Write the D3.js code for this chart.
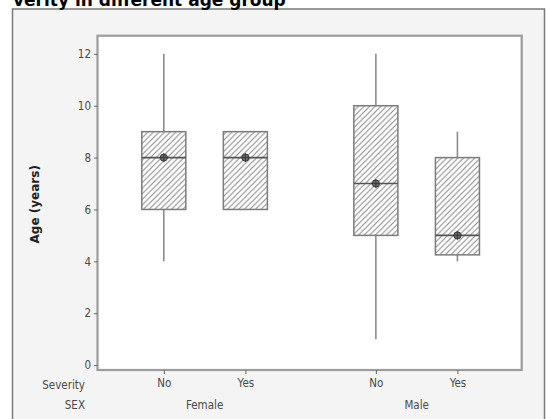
<!DOCTYPE html>
<html>
<head>
<meta charset="utf-8">
<script src="https://cdn.jsdelivr.net/npm/d3@7"></script>
<style>
  html, body { margin: 0; padding: 0; background: #ffffff; }
  svg { display: block; }
</style>
</head>
<body>
<svg id="chart" width="546" height="419"></svg>
<script>
// ---- data ----
const groups = ["Female", "Male"];
const severityLevels = ["No", "Yes"];
const sex = ["Female", "Female", "Male", "Male"];
const severity = ["No", "Yes", "No", "Yes"];
const whiskerLow = [4, 6, 1, 4];
const q1 = [6, 6, 5, 4.25];
const median = [8, 8, 7, 5];
const q3 = [9, 9, 10, 8];
const whiskerHigh = [12, 9, 12, 9];
const means = [8, 8, 7, 5];
const yTicks = [0, 2, 4, 6, 8, 10, 12];
const titleText = "verity in different age group";
const yTitle = "Age (years)";
const groupGap = 2.6;

// ---- layout ----
const svg = d3.select("#chart");
const W = 546, H = 419;
const plot = { left: 97.5, right: 521.7, top: 35.7, bottom: 370 };
const labelFont = "'DejaVu Sans Condensed', 'DejaVu Sans', sans-serif";
const textColor = "#4a4a4a";

const pos = sex.map((s, i) => groups.indexOf(s) * groupGap + severityLevels.indexOf(severity[i]));
const x = d3.scaleLinear().domain([-0.813, 4.388]).range([plot.left, plot.right]);
const y = d3.scaleLinear().domain([-0.19, 12.7]).range([plot.bottom, plot.top]);
const boxW = x(0.54) - x(0);

// hatch pattern
const defs = svg.append("defs");
const pat = defs.append("pattern").attr("id", "hatch")
  .attr("patternUnits", "userSpaceOnUse").attr("width", 5.6).attr("height", 5.6);
pat.append("rect").attr("width", 5.6).attr("height", 5.6).attr("fill", "#ffffff");
pat.append("path").attr("d", "M-1,1 L1,-1 M0,5.6 L5.6,0 M4.6,6.6 L6.6,4.6")
  .attr("stroke", "#8a8a8a").attr("stroke-width", 1.1);

// outer panel
svg.append("rect").attr("x", 12.5).attr("y", 9).attr("width", W - 14).attr("height", H - 8)
  .attr("fill", "#f4f4f4").attr("stroke", "#7a7a7a").attr("stroke-width", 1.5);

// title (cut off at the top)
svg.append("text").attr("x", 13).attr("y", 6)
  .attr("font-family", "'DejaVu Sans', sans-serif").attr("font-weight", "bold")
  .attr("font-size", 17).attr("fill", "#000").text(titleText);

// plot area
svg.append("rect").attr("x", plot.left).attr("y", plot.top)
  .attr("width", plot.right - plot.left).attr("height", plot.bottom - plot.top)
  .attr("fill", "#ffffff").attr("stroke", "#9c9c9c").attr("stroke-width", 2.2);

// y axis
const yAxis = svg.append("g").attr("transform", `translate(${plot.left},0)`)
  .call(d3.axisLeft(y).tickValues(yTicks).tickSize(3.5).tickPadding(3));
yAxis.select(".domain").remove();
yAxis.selectAll(".tick line").attr("stroke", "#666");
yAxis.selectAll(".tick text").attr("font-family", labelFont).attr("font-size", 11.5)
  .attr("fill", textColor);

// x axis ticks + severity labels
const xAxis = svg.append("g").attr("transform", `translate(0,${plot.bottom})`)
  .call(d3.axisBottom(x).tickValues(pos).tickSize(4).tickPadding(5)
    .tickFormat((d, i) => severity[i]));
xAxis.select(".domain").remove();
xAxis.selectAll(".tick line").attr("stroke", "#666");
xAxis.selectAll(".tick text").attr("font-family", labelFont).attr("font-size", 11.5)
  .attr("fill", textColor);

// group labels
svg.append("g").selectAll("text").data(groups).join("text")
  .attr("x", g => {
    const p = pos.filter((_, i) => sex[i] === g);
    return x(d3.mean(p));
  })
  .attr("y", 409).attr("text-anchor", "middle")
  .attr("font-family", labelFont).attr("font-size", 11.5).attr("fill", textColor)
  .text(g => g);

// row labels
svg.append("text").attr("x", 85).attr("y", 389).attr("text-anchor", "end")
  .attr("font-family", labelFont).attr("font-size", 11.5).attr("fill", textColor).text("Severity");
svg.append("text").attr("x", 85).attr("y", 409).attr("text-anchor", "end")
  .attr("font-family", labelFont).attr("font-size", 11.5).attr("fill", textColor).text("SEX");

// y title
svg.append("text").attr("transform", `translate(39,${y(6.2)}) rotate(-90)`)
  .attr("text-anchor", "middle").attr("font-family", "'DejaVu Sans', sans-serif")
  .attr("font-weight", "bold").attr("font-size", 12).attr("fill", "#222").text(yTitle);

// boxes
const boxes = svg.append("g");
const idx = d3.range(pos.length);
// whiskers
boxes.selectAll("line.wl").data(idx).join("line").attr("class", "wl")
  .attr("x1", i => x(pos[i])).attr("x2", i => x(pos[i]))
  .attr("y1", i => y(whiskerLow[i])).attr("y2", i => y(q1[i]))
  .attr("stroke", "#8c8c8c").attr("stroke-width", 1.6);
boxes.selectAll("line.wh").data(idx).join("line").attr("class", "wh")
  .attr("x1", i => x(pos[i])).attr("x2", i => x(pos[i]))
  .attr("y1", i => y(whiskerHigh[i])).attr("y2", i => y(q3[i]))
  .attr("stroke", "#8c8c8c").attr("stroke-width", 1.6);
// box
boxes.selectAll("rect").data(idx).join("rect")
  .attr("x", i => x(pos[i]) - boxW / 2).attr("width", boxW)
  .attr("y", i => y(q3[i])).attr("height", i => y(q1[i]) - y(q3[i]))
  .attr("fill", "url(#hatch)").attr("stroke", "#7c7c7c").attr("stroke-width", 1.5);
// median
boxes.selectAll("line.med").data(idx).join("line").attr("class", "med")
  .attr("x1", i => x(pos[i]) - boxW / 2).attr("x2", i => x(pos[i]) + boxW / 2)
  .attr("y1", i => y(median[i])).attr("y2", i => y(median[i]))
  .attr("stroke", "#555").attr("stroke-width", 1.6);
// mean symbol
const mg = boxes.selectAll("g.mean").data(idx).join("g").attr("class", "mean")
  .attr("transform", i => `translate(${x(pos[i])},${y(means[i])})`);
mg.append("circle").attr("r", 3.6).attr("fill", "#6a6a6a").attr("stroke", "#3a3a3a").attr("stroke-width", 1);
mg.append("path").attr("d", "M-4.5,0 L4.5,0 M0,-4.5 L0,4.5").attr("stroke", "#3a3a3a").attr("stroke-width", 1);
</script>
</body>
</html>
